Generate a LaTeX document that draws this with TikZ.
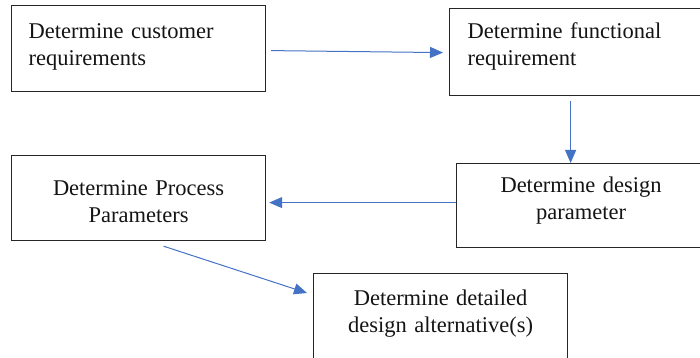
\documentclass[tikz,border=0pt]{standalone}
\usepackage{fontspec}
\setmainfont{Liberation Serif}
\usetikzlibrary{arrows.meta}
\usetikzlibrary{calc}

\definecolor{flowblue}{RGB}{68,114,196}

\begin{document}
\begin{tikzpicture}[x=1pt,y=-1pt,
    stepbox/.style={draw=black!85, line width=1.2pt, inner sep=0pt, anchor=north west, text=black!92, font=\fontsize{22.5}{26.5}\selectfont},
    leftbox/.style={stepbox, align=left, inner xsep=17pt},
    midbox/.style={stepbox, align=center},
    flow/.style={draw=flowblue, line width=1pt, -{Triangle[length=13pt,width=11pt]}}]
    % Page size of the reference
    \useasboundingbox (0,0) rectangle (700,358);

    % Steps:
    % Boxes on the right and at the bottom run over the page edge
    \node [leftbox, text width=220pt, text height=33pt, text depth=53pt] (cust) at (11,5) {Determine customer\\requirements};
    \node [leftbox, inner xsep=18pt, text width=220pt, text height=30pt, text depth=57pt] (func) at (449,8) {Determine functional\\requirement};
    \node [midbox, text width=249pt, text height=29pt, text depth=55pt] (param) at (456,163) {Determine design\\parameter};
    \node [midbox, text width=254pt, text height=40pt, text depth=45pt] (process) at (11,155) {Determine Process\\Parameters};
    \node [midbox, text width=254pt, text height=32pt, text depth=59pt] (detail) at (313,273) {Determine detailed\\design alternative(s)};

    % Flow between the steps
    \draw [flow] ($(cust.east)+(5,2)$) -- ($(func.west)+(-6,0.5)$);
    \draw [flow] ($(func.south)+(-7,5)$) -- ($(param.north)+(-10.5,0)$);
    \draw [flow] ($(param.west)+(0,-3)$) -- ($(param.west -| process.east)+(3,-3)$);
    \draw [flow] ($(process.south)+(25,5)$) -- ($(detail.north west)+(-6,20)$);
\end{tikzpicture}
\end{document}
